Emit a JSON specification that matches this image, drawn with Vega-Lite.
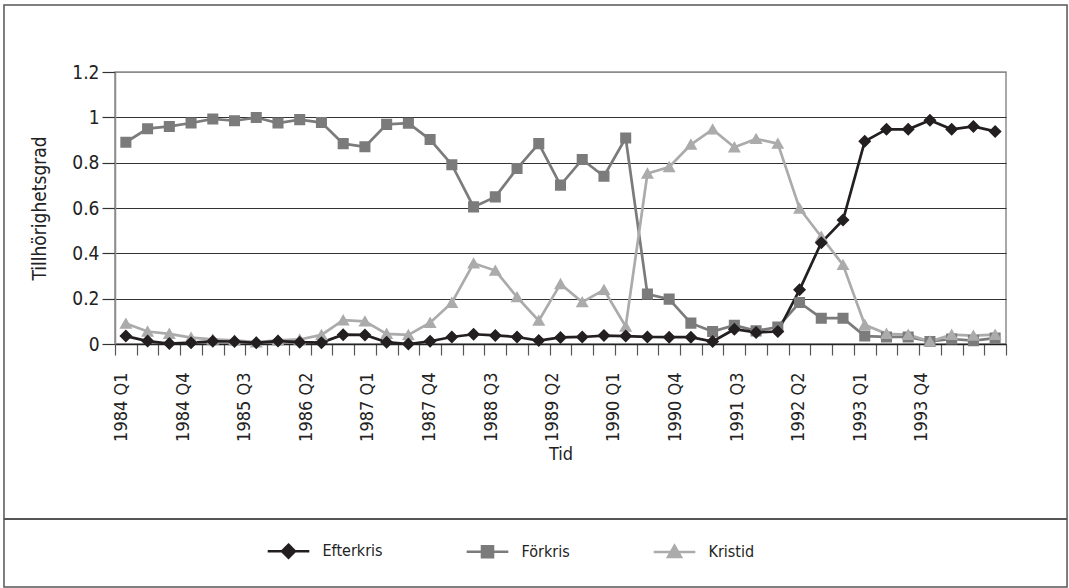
{
  "$schema": "https://vega.github.io/schema/vega-lite/v6.json",
  "width": 891,
  "height": 272,
  "autosize": {"type": "none"},
  "padding": {"left": 115, "top": 72, "right": 63, "bottom": 244},
  "background": "white",
  "data": {
    "values": [
      {"kvartal": "1984 Q1", "Förkris": 0.89, "Kristid": 0.09, "Efterkris": 0.035},
      {"kvartal": "1984 Q2", "Förkris": 0.95, "Kristid": 0.055, "Efterkris": 0.013},
      {"kvartal": "1984 Q3", "Förkris": 0.96, "Kristid": 0.045, "Efterkris": 0.002},
      {"kvartal": "1984 Q4", "Förkris": 0.975, "Kristid": 0.028, "Efterkris": 0.006},
      {"kvartal": "1985 Q1", "Förkris": 0.993, "Kristid": 0.02, "Efterkris": 0.012},
      {"kvartal": "1985 Q2", "Förkris": 0.985, "Kristid": 0.016, "Efterkris": 0.011},
      {"kvartal": "1985 Q3", "Förkris": 0.999, "Kristid": 0.008, "Efterkris": 0.005},
      {"kvartal": "1985 Q4", "Förkris": 0.975, "Kristid": 0.016, "Efterkris": 0.013},
      {"kvartal": "1986 Q1", "Förkris": 0.99, "Kristid": 0.02, "Efterkris": 0.008},
      {"kvartal": "1986 Q2", "Förkris": 0.977, "Kristid": 0.04, "Efterkris": 0.006},
      {"kvartal": "1986 Q3", "Förkris": 0.884, "Kristid": 0.105, "Efterkris": 0.041},
      {"kvartal": "1986 Q4", "Förkris": 0.87, "Kristid": 0.1, "Efterkris": 0.04},
      {"kvartal": "1987 Q1", "Förkris": 0.969, "Kristid": 0.045, "Efterkris": 0.008},
      {"kvartal": "1987 Q2", "Förkris": 0.974, "Kristid": 0.04, "Efterkris": 0.0},
      {"kvartal": "1987 Q3", "Förkris": 0.902, "Kristid": 0.094, "Efterkris": 0.012},
      {"kvartal": "1987 Q4", "Förkris": 0.791, "Kristid": 0.182, "Efterkris": 0.031},
      {"kvartal": "1988 Q1", "Förkris": 0.605, "Kristid": 0.356, "Efterkris": 0.043},
      {"kvartal": "1988 Q2", "Förkris": 0.649, "Kristid": 0.324, "Efterkris": 0.038},
      {"kvartal": "1988 Q3", "Förkris": 0.774, "Kristid": 0.207, "Efterkris": 0.031},
      {"kvartal": "1988 Q4", "Förkris": 0.884, "Kristid": 0.103, "Efterkris": 0.015},
      {"kvartal": "1989 Q1", "Förkris": 0.701, "Kristid": 0.265, "Efterkris": 0.029},
      {"kvartal": "1989 Q2", "Förkris": 0.814, "Kristid": 0.185, "Efterkris": 0.031},
      {"kvartal": "1989 Q3", "Förkris": 0.74, "Kristid": 0.239, "Efterkris": 0.037},
      {"kvartal": "1989 Q4", "Förkris": 0.909, "Kristid": 0.077, "Efterkris": 0.035},
      {"kvartal": "1990 Q1", "Förkris": 0.22, "Kristid": 0.752, "Efterkris": 0.031},
      {"kvartal": "1990 Q2", "Förkris": 0.198, "Kristid": 0.781, "Efterkris": 0.03},
      {"kvartal": "1990 Q3", "Förkris": 0.092, "Kristid": 0.88, "Efterkris": 0.03},
      {"kvartal": "1990 Q4", "Förkris": 0.055, "Kristid": 0.947, "Efterkris": 0.011},
      {"kvartal": "1991 Q1", "Förkris": 0.083, "Kristid": 0.868, "Efterkris": 0.065},
      {"kvartal": "1991 Q2", "Förkris": 0.058, "Kristid": 0.905, "Efterkris": 0.051},
      {"kvartal": "1991 Q3", "Förkris": 0.075, "Kristid": 0.884, "Efterkris": 0.055},
      {"kvartal": "1991 Q4", "Förkris": 0.183, "Kristid": 0.598, "Efterkris": 0.239},
      {"kvartal": "1992 Q1", "Förkris": 0.114, "Kristid": 0.473, "Efterkris": 0.447},
      {"kvartal": "1992 Q2", "Förkris": 0.114, "Kristid": 0.349, "Efterkris": 0.547},
      {"kvartal": "1992 Q3", "Förkris": 0.035, "Kristid": 0.085, "Efterkris": 0.894},
      {"kvartal": "1992 Q4", "Förkris": 0.031, "Kristid": 0.045, "Efterkris": 0.947},
      {"kvartal": "1993 Q1", "Förkris": 0.031, "Kristid": 0.041, "Efterkris": 0.947},
      {"kvartal": "1993 Q2", "Förkris": 0.011, "Kristid": 0.011, "Efterkris": 0.987},
      {"kvartal": "1993 Q3", "Förkris": 0.022, "Kristid": 0.041, "Efterkris": 0.947},
      {"kvartal": "1993 Q4", "Förkris": 0.015, "Kristid": 0.037, "Efterkris": 0.96},
      {"kvartal": "1994 Q1", "Förkris": 0.026, "Kristid": 0.041, "Efterkris": 0.938}
    ]
  },
  "layer": [
    {
      "transform": [{"fold": ["Förkris", "Kristid", "Efterkris"], "as": ["serie", "varde"]}],
      "encoding": {
        "x": {
          "field": "kvartal",
          "type": "ordinal",
          "sort": null,
          "scale": {"type": "band", "paddingInner": 0, "paddingOuter": 0},
          "axis": {
            "title": "Tid",
            "tickBand": "extent",
            "grid": false,
            "labelAngle": -90,
            "labelAlign": "right",
            "labelBaseline": "middle",
            "labelPadding": 17,
            "labelFontSize": 18,
            "labelOverlap": false,
            "labelBound": false,
            "labelFlush": false,
            "tickSize": 11,
            "tickColor": "#555555",
            "tickWidth": 1.2,
            "domainColor": "#222222",
            "domainWidth": 1.3,
            "titlePadding": 4,
            "labelExpr": "indexof(['1984 Q1','1984 Q4','1985 Q3','1986 Q2','1987 Q1','1987 Q4','1988 Q3','1989 Q2','1990 Q1','1990 Q4','1991 Q3','1992 Q2','1993 Q1','1993 Q4'], datum.value) >= 0 ? datum.value : ''",
            "labelOffset": {
              "condition": [
                {"test": "datum.value === '1984 Q1'", "value": -4},
                {"test": "datum.value === '1984 Q4'", "value": -8},
                {"test": "datum.value === '1985 Q3'", "value": -11.5},
                {"test": "datum.value === '1986 Q2'", "value": -15},
                {"test": "datum.value === '1987 Q1'", "value": -19},
                {"test": "datum.value === '1987 Q4'", "value": -22.5},
                {"test": "datum.value === '1988 Q3'", "value": -26},
                {"test": "datum.value === '1989 Q2'", "value": -30},
                {"test": "datum.value === '1990 Q1'", "value": -33.5},
                {"test": "datum.value === '1990 Q4'", "value": -37},
                {"test": "datum.value === '1991 Q3'", "value": -40.5},
                {"test": "datum.value === '1992 Q2'", "value": -44.5},
                {"test": "datum.value === '1993 Q1'", "value": -48},
                {"test": "datum.value === '1993 Q4'", "value": -51.5}
              ],
              "value": 0
            }
          }
        },
        "y": {
          "field": "varde",
          "type": "quantitative",
          "scale": {"domain": [0, 1.2], "nice": false},
          "axis": {
            "title": "Tillhörighetsgrad",
            "values": [0, 0.2, 0.4, 0.6, 0.8, 1, 1.2],
            "format": "~g",
            "grid": true,
            "gridColor": {"condition": {"test": "datum.value > 1.1", "value": "#8c8c8c"}, "value": "#333333"},
            "gridWidth": 1.2,
            "domainColor": "#8c8c8c",
            "domainWidth": 1.5,
            "tickColor": "#333333",
            "tickSize": 13,
            "tickWidth": 1.2,
            "labelPadding": 3,
            "labelFontSize": 19,
            "titleFontSize": 19,
            "titlePadding": 22
          }
        }
      },
      "layer": [
        {
          "transform": [{"filter": "datum.serie === 'Förkris'"}],
          "mark": {"type": "line", "strokeWidth": 2.7, "color": "#7b7b7b"}
        },
        {
          "transform": [{"filter": "datum.serie === 'Kristid'"}],
          "mark": {"type": "line", "strokeWidth": 2.7, "color": "#ababab"}
        },
        {
          "transform": [{"filter": "datum.serie === 'Efterkris'"}],
          "mark": {"type": "line", "strokeWidth": 2.7, "color": "#231f20"}
        },
        {
          "mark": {"type": "point", "filled": true, "size": 169, "strokeWidth": 0, "opacity": 1},
          "encoding": {
            "shape": {
              "field": "serie",
              "type": "nominal",
              "scale": {
                "domain": ["Efterkris", "Förkris", "Kristid"],
                "range": [
                  "M-3.2,0H3.2M0,-1L1,0L0,1L-1,0Z",
                  "M-3.2,0H3.2M-0.85,-0.85H0.85V0.85H-0.85Z",
                  "M-3.2,0H3.2M0,-0.95L1,0.8H-1Z"
                ]
              },
              "legend": {"title": null, "orient": "none", "legendX": 165.5, "legendY": 471, "direction": "horizontal"}
            },
            "fill": {
              "field": "serie",
              "type": "nominal",
              "scale": {"domain": ["Efterkris", "Förkris", "Kristid"], "range": ["#231f20", "#7b7b7b", "#ababab"]},
              "legend": {"title": null, "orient": "none", "legendX": 165.5, "legendY": 471, "direction": "horizontal"}
            },
            "stroke": {
              "field": "serie",
              "type": "nominal",
              "scale": {"domain": ["Efterkris", "Förkris", "Kristid"], "range": ["#231f20", "#7b7b7b", "#ababab"]},
              "legend": {"title": null, "orient": "none", "legendX": 165.5, "legendY": 471, "direction": "horizontal"}
            }
          }
        }
      ]
    },
    {
      "data": {"values": [{}]},
      "mark": {"type": "rect", "fill": null, "fillOpacity": 0, "stroke": "#555555", "strokeWidth": 1.5},
      "encoding": {
        "x": {"datum": -0.1246, "type": "quantitative", "scale": {"domain": [0, 1], "nice": false, "zero": false}, "axis": null},
        "x2": {"datum": 1.0685},
        "y": {"datum": 1.2463, "type": "quantitative", "scale": {"domain": [0, 1], "nice": false, "zero": false}, "axis": null},
        "y2": {"datum": -0.8934}
      }
    },
    {
      "data": {"values": [{}]},
      "mark": {"type": "rule", "stroke": "#555555", "strokeWidth": 2},
      "encoding": {
        "x": {"datum": -0.1246, "type": "quantitative", "scale": {"domain": [0, 1], "nice": false, "zero": false}, "axis": null},
        "x2": {"datum": 1.0685},
        "y": {"datum": -0.6434, "type": "quantitative", "scale": {"domain": [0, 1], "nice": false, "zero": false}, "axis": null}
      }
    }
  ],
  "resolve": {"scale": {"x": "independent", "y": "independent"}},
  "config": {
    "font": "DejaVu Sans Condensed, DejaVu Sans, sans-serif",
    "view": {"stroke": "#8c8c8c", "strokeWidth": 1.5},
    "axis": {
      "labelFont": "DejaVu Sans Condensed, DejaVu Sans, sans-serif",
      "labelColor": "#222222",
      "titleFont": "DejaVu Sans Condensed, DejaVu Sans, sans-serif",
      "titleFontSize": 18,
      "titleFontWeight": "normal",
      "titleColor": "#222222"
    },
    "legend": {
      "padding": 0,
      "columnPadding": 78,
      "labelOffset": 26,
      "symbolSize": 169,
      "symbolStrokeWidth": 2.5,
      "labelFont": "DejaVu Sans Condensed, DejaVu Sans, sans-serif",
      "labelFontSize": 16,
      "labelColor": "#222222",
      "labelLimit": 300
    }
  }
}
